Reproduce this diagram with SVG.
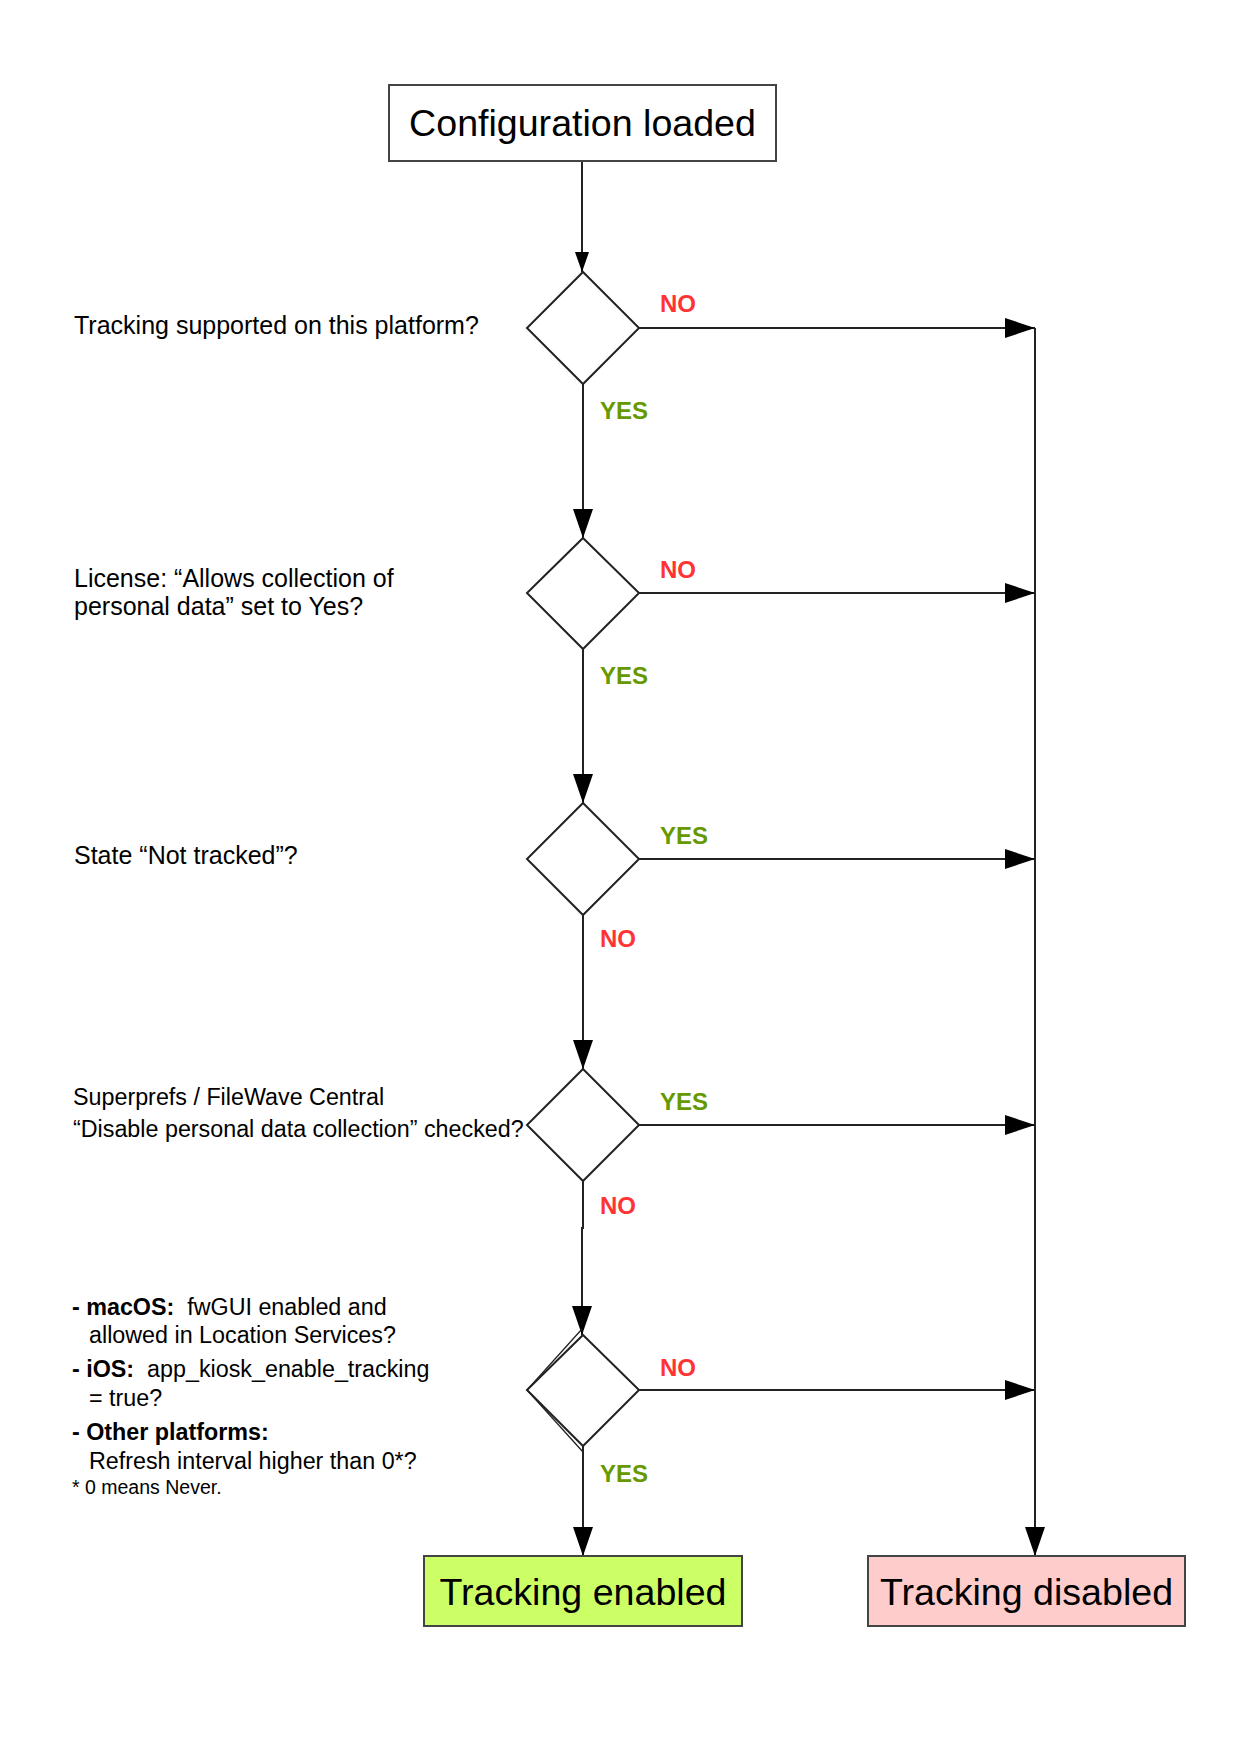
<svg xmlns="http://www.w3.org/2000/svg" width="1239" height="1754" viewBox="0 0 1239 1754">
<defs>
<style>
.t{font-family:"Liberation Sans",Arial,sans-serif;fill:#000}
.big{font-size:37.6px}
.q{font-size:25px}
.lbl{font-family:"Liberation Sans",Arial,sans-serif;font-size:24px;font-weight:bold}
.no{fill:#ff3333}
.yes{fill:#669900}
.dia{fill:#fff;stroke:#222;stroke-width:2}
.box{stroke:#444;stroke-width:2}
.c{fill:none;stroke:#222;stroke-width:2}
</style>
<marker id="aS" markerUnits="userSpaceOnUse" markerWidth="20" markerHeight="14" refX="20" refY="7" orient="auto"><path d="M0,0 L20,7 L0,14 z" fill="#000"/></marker>
<marker id="aV" markerUnits="userSpaceOnUse" markerWidth="29" markerHeight="20" refX="29" refY="10" orient="auto"><path d="M0,0 L29,10 L0,20 z" fill="#000"/></marker>
<marker id="aH" markerUnits="userSpaceOnUse" markerWidth="30" markerHeight="20" refX="30" refY="10" orient="auto"><path d="M0,0 L30,10 L0,20 z" fill="#000"/></marker>
</defs>
<rect width="1239" height="1754" fill="#fff"/>

<g id="connectors">
<path class="c" d="M582,161 L582,272" marker-end="url(#aS)"/>
<path class="c" d="M583,384 L583,538" marker-end="url(#aV)"/>
<path class="c" d="M583,649 L583,803" marker-end="url(#aV)"/>
<path class="c" d="M583,915 L583,1069" marker-end="url(#aV)"/>
<path class="c" d="M583,1181 L583,1228 L582,1228 L582,1335" marker-end="url(#aV)"/>
<path class="c" d="M583,1446 L583,1556" marker-end="url(#aV)"/>
<path class="c" d="M639,328 L1035,328" marker-end="url(#aH)"/>
<path class="c" d="M639,593 L1035,593" marker-end="url(#aH)"/>
<path class="c" d="M639,859 L1035,859" marker-end="url(#aH)"/>
<path class="c" d="M639,1125 L1035,1125" marker-end="url(#aH)"/>
<path class="c" d="M639,1390 L1035,1390" marker-end="url(#aH)"/>
<path class="c" d="M1035,328 L1035,1556" marker-end="url(#aV)"/>
<text class="lbl no" x="660" y="312">NO</text>
<text class="lbl yes" x="600" y="419">YES</text>
<text class="lbl no" x="660" y="578">NO</text>
<text class="lbl yes" x="600" y="684">YES</text>
<text class="lbl yes" x="660" y="844">YES</text>
<text class="lbl no" x="600" y="947">NO</text>
<text class="lbl yes" x="660" y="1110">YES</text>
<text class="lbl no" x="600" y="1214">NO</text>
<text class="lbl no" x="660" y="1376">NO</text>
<text class="lbl yes" x="600" y="1482">YES</text>
</g>

<g id="start">
<rect x="389" y="85" width="387" height="76" fill="#fff" class="box"/>
<text class="t big" x="582.5" y="136" text-anchor="middle">Configuration loaded</text>
</g>

<g id="q1">
<polygon class="dia" points="583,272 639,328 583,384 527,328"/>
<text class="t q" x="74" y="334">Tracking supported on this platform?</text>
</g>

<g id="q2">
<polygon class="dia" points="583,538 639,593 583,649 527,593"/>
<text class="t q" x="74" y="587">License: “Allows collection of</text>
<text class="t q" x="74" y="615">personal data” set to Yes?</text>
</g>

<g id="q3">
<polygon class="dia" points="583,803 639,859 583,915 527,859"/>
<text class="t q" x="74" y="864">State “Not tracked”?</text>
</g>

<g id="q4">
<polygon class="dia" points="583,1069 639,1125 583,1181 527,1125"/>
<text class="t" font-size="23.3" x="73" y="1105">Superprefs / FileWave Central</text>
<text class="t" font-size="23.3" x="73" y="1137">“Disable personal data collection” checked?</text>
</g>

<g id="q5">
<polygon class="dia" points="583,1335 639,1390 583,1446 527,1390"/>
<path d="M582,1329 L527,1390 L583,1452" fill="none" stroke="#222" stroke-width="1.3"/>
<text class="t" font-size="23.3" x="72" y="1315"><tspan font-weight="bold">- macOS:</tspan>&#160; fwGUI enabled and</text>
<text class="t" font-size="23.3" x="89" y="1343">allowed in Location Services?</text>
<text class="t" font-size="23.3" x="72" y="1377"><tspan font-weight="bold">- iOS:</tspan>&#160; app_kiosk_enable_tracking</text>
<text class="t" font-size="23.3" x="89" y="1406">= true?</text>
<text class="t" font-size="23.3" x="72" y="1440" font-weight="bold">- Other platforms:</text>
<text class="t" font-size="23.3" x="89" y="1469">Refresh interval higher than 0*?</text>
<text class="t" font-size="19.5" x="72" y="1494">* 0 means Never.</text>
</g>

<g id="enabled">
<rect x="424" y="1556" width="318" height="70" fill="#ccff66" class="box"/>
<text class="t big" x="583" y="1605" text-anchor="middle">Tracking enabled</text>
</g>

<g id="disabled">
<rect x="868" y="1556" width="317" height="70" fill="#ffcccc" class="box"/>
<text class="t big" x="1026.5" y="1605" text-anchor="middle">Tracking disabled</text>
</g>
</svg>
